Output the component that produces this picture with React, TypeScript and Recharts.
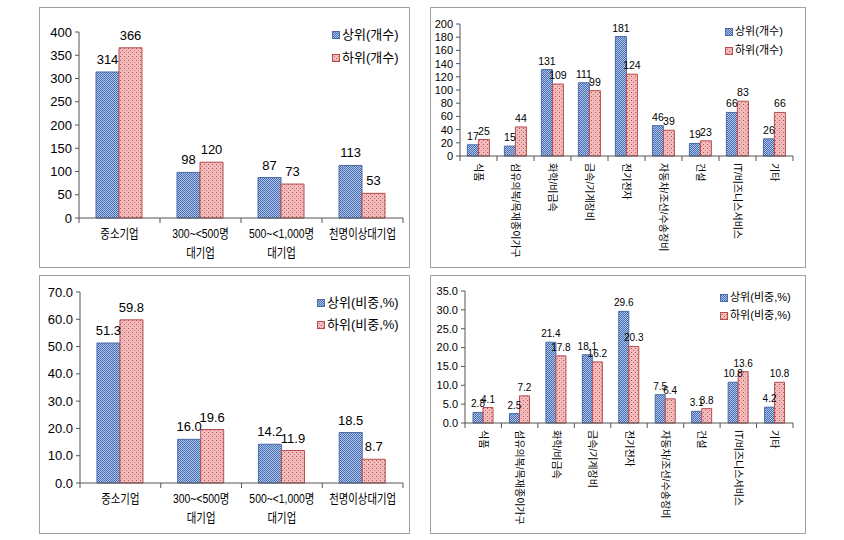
import React from 'react';
import { BarChart, Bar, XAxis, YAxis, Legend, LabelList } from 'recharts';

// 기업 규모별 (개수 / 비중)
const sizeCats = ['중소기업', '300~<500명\n대기업', '500~<1,000명\n대기업', '천명이상대기업'];
const sizeTopCnt = [314, 98, 87, 113];
const sizeLowCnt = [366, 120, 73, 53];
const sizeTopPct = [51.3, 16.0, 14.2, 18.5];
const sizeLowPct = [59.8, 19.6, 11.9, 8.7];

// 업종별 (개수 / 비중)
const indCats = ['식품', '섬유의복/목재종이가구', '화학/비금속', '금속/기계장비', '전기전자', '자동차/조선/수송장비', '건설', 'IT/비즈니스서비스', '기타'];
const indTopCnt = [17, 15, 131, 111, 181, 46, 19, 66, 26];
const indLowCnt = [25, 44, 109, 99, 124, 39, 23, 83, 66];
const indTopPct = [2.8, 2.5, 21.4, 18.1, 29.6, 7.5, 3.1, 10.8, 4.2];
const indLowPct = [4.1, 7.2, 17.8, 16.2, 20.3, 6.4, 3.8, 13.6, 10.8];

const cntTicksSize = [0, 50, 100, 150, 200, 250, 300, 350, 400];
const cntTicksInd = [0, 20, 40, 60, 80, 100, 120, 140, 160, 180, 200];
const pctTicksSize = [0, 10, 20, 30, 40, 50, 60, 70];
const pctTicksInd = [0, 5, 10, 15, 20, 25, 30, 35];

const FONT = "'Liberation Sans Narrow', 'Liberation Sans', Arial, 'Noto Sans CJK KR', sans-serif";
const AXIS = '#555';
const TICK_SIZE = 5;
const TICK_MARGIN = 3;

const build = (cats: string[], a: number[], b: number[]) =>
  cats.map((c, i) => ({ name: c, top: a[i], low: b[i] }));

const Patterns = ({ id }: { id: string }) => (
  <defs>
    <pattern id={`blue-${id}`} width="2" height="2" patternUnits="userSpaceOnUse">
      <rect width="2" height="2" fill="#b0c6ec" />
      <rect x="0" y="0" width="1" height="1" fill="#4166aa" />
      <rect x="1" y="1" width="1" height="1" fill="#4a70b4" />
    </pattern>
    <pattern id={`pink-${id}`} width="4" height="4" patternUnits="userSpaceOnUse">
      <rect width="4" height="4" fill="#f3bcbc" />
      <rect x="0" y="0" width="1" height="1" fill="#c0504d" />
      <rect x="2" y="2" width="1" height="1" fill="#d0706d" />
    </pattern>
  </defs>
);

const HorizTick = (props: any) => {
  const { x, y, payload, index, visibleTicksCount, fs } = props;
  const off = payload.offset ?? 0;
  const y0 = y - TICK_SIZE - TICK_MARGIN;
  const lines = String(payload.value).split('\n');
  return (
    <g>
      <line x1={x - off} x2={x - off} y1={y0} y2={y0 + TICK_SIZE} stroke={AXIS} />
      {index === visibleTicksCount - 1 && (
        <line x1={x + off} x2={x + off} y1={y0} y2={y0 + TICK_SIZE} stroke={AXIS} />
      )}
      <g transform={`translate(${x}, ${y + 12}) scale(0.8, 1)`}>
        <text x={0} y={0} textAnchor="middle" fontSize={fs} fontFamily={FONT} fill="#000">
          {lines.map((l, i) => (
            <tspan key={i} x={0} dy={i === 0 ? 0 : 19}>{l}</tspan>
          ))}
        </text>
      </g>
    </g>
  );
};

const VertTick = (props: any) => {
  const { x, y, payload, index, visibleTicksCount, fs } = props;
  const off = payload.offset ?? 0;
  const y0 = y - TICK_SIZE - TICK_MARGIN;
  return (
    <g>
      <line x1={x - off} x2={x - off} y1={y0} y2={y0 + TICK_SIZE} stroke={AXIS} />
      {index === visibleTicksCount - 1 && (
        <line x1={x + off} x2={x + off} y1={y0} y2={y0 + TICK_SIZE} stroke={AXIS} />
      )}
      <text
        x={x}
        y={y - 1}
        transform={`rotate(90, ${x}, ${y - 1})`}
        textAnchor="start"
        dominantBaseline="central"
        fontSize={fs}
        fontFamily={FONT}
        fill="#000"
      >
        {payload.value}
      </text>
    </g>
  );
};

const LegendBox = ({ id, names, fs, gap }: any) => (
  <div style={{ fontFamily: FONT, fontSize: fs, color: '#000', lineHeight: 1 }}>
    {names.map((n: string, i: number) => (
      <div key={n} style={{ display: 'flex', alignItems: 'center', marginTop: i === 0 ? 0 : gap }}>
        <svg width={8} height={8} style={{ marginRight: 2 }}>
          <rect x={0.5} y={0.5} width={7} height={7} fill={`url(#${i === 0 ? 'blue' : 'pink'}-${id})`} stroke={i === 0 ? '#4a6aa8' : '#b84b4b'} />
        </svg>
        <span>{n}</span>
      </div>
    ))}
  </div>
);

type PanelProps = {
  id: string;
  box: { left: number; top: number; width: number; height: number };
  data: any[];
  names: string[];
  ticks: number[];
  pct: boolean;
  vertical: boolean;
  margin: { top: number; right: number };
  yWidth: number;
  xHeight: number;
  gapPct: string;
  fs: number;
  catFs: number;
  labelFs: number;
  labelOffset: number;
  legendPos: { left: number; top: number };
  legendGap: number;
};

const Panel = (p: PanelProps) => {
  const fmt = (v: any) => (p.pct ? Number(v).toFixed(1) : String(v));
  const max = p.ticks[p.ticks.length - 1];
  const labelStyle = { fontSize: p.labelFs, fontFamily: FONT, fill: '#000' };
  return (
    <div
      style={{
        position: 'absolute',
        left: p.box.left,
        top: p.box.top,
        width: p.box.width,
        height: p.box.height,
        border: '1px solid #a0a0a0',
        boxSizing: 'border-box',
        background: '#fff',
      }}
    >
      <BarChart
        width={p.box.width - 2}
        height={p.box.height - 2}
        data={p.data}
        margin={{ top: p.margin.top, right: p.margin.right, left: 0, bottom: 0 }}
        barCategoryGap={p.gapPct}
        barGap={0}
      >
        <Patterns id={p.id} />
        <XAxis
          dataKey="name"
          interval={0}
          height={p.xHeight}
          stroke={AXIS}
          tickLine={false}
          tickSize={TICK_SIZE}
          tickMargin={TICK_MARGIN}
          tick={p.vertical ? <VertTick fs={p.catFs} /> : <HorizTick fs={p.catFs} />}
        />
        <YAxis
          width={p.yWidth}
          domain={[0, max]}
          ticks={p.ticks}
          interval={0}
          stroke={AXIS}
          tickSize={4}
          tickMargin={3}
          tickFormatter={fmt}
          tick={{ fontSize: p.fs, fontFamily: FONT, fill: '#000' }}
        />
        <Legend
          layout="horizontal"
          verticalAlign="middle"
          content={() => <LegendBox id={p.id} names={p.names} fs={p.fs} gap={p.legendGap} />}
          wrapperStyle={{ position: 'absolute', left: p.legendPos.left, top: p.legendPos.top, width: 'auto' }}
        />
        <Bar dataKey="top" name={p.names[0]} fill={`url(#blue-${p.id})`} stroke="#4a6aa8" strokeWidth={1} isAnimationActive={false}>
          <LabelList dataKey="top" position="top" offset={p.labelOffset} formatter={fmt} style={labelStyle} />
        </Bar>
        <Bar dataKey="low" name={p.names[1]} fill={`url(#pink-${p.id})`} stroke="#b84b4b" strokeWidth={1} isAnimationActive={false}>
          <LabelList dataKey="low" position="top" offset={p.labelOffset} formatter={fmt} style={labelStyle} />
        </Bar>
      </BarChart>
    </div>
  );
};

export default function App() {
  return (
    <div style={{ position: 'absolute', left: 0, top: 0, width: 844, height: 540, background: '#fff' }}>
      <Panel
        id="a"
        box={{ left: 39, top: 7, width: 371, height: 261 }}
        data={build(sizeCats, sizeTopCnt, sizeLowCnt)}
        names={['상위(개수)', '하위(개수)']}
        ticks={cntTicksSize}
        pct={false}
        vertical={false}
        margin={{ top: 24, right: 6 }}
        yWidth={39}
        xHeight={49}
        gapPct="21%"
        fs={13}
        catFs={13}
        labelFs={13}
        labelOffset={8}
        legendPos={{ left: 292, top: 20 }}
        legendGap={10}
      />
      <Panel
        id="b"
        box={{ left: 430, top: 7, width: 376, height: 261 }}
        data={build(indCats, indTopCnt, indLowCnt)}
        names={['상위(개수)', '하위(개수)']}
        ticks={cntTicksInd}
        pct={false}
        vertical={true}
        margin={{ top: 16, right: 12 }}
        yWidth={29}
        xHeight={111}
        gapPct="20%"
        fs={11}
        catFs={10}
        labelFs={10.5}
        labelOffset={5}
        legendPos={{ left: 294, top: 18 }}
        legendGap={8}
      />
      <Panel
        id="c"
        box={{ left: 39, top: 275, width: 371, height: 259 }}
        data={build(sizeCats, sizeTopPct, sizeLowPct)}
        names={['상위(비중,%)', '하위(비중,%)']}
        ticks={pctTicksSize}
        pct={true}
        vertical={false}
        margin={{ top: 16, right: 6 }}
        yWidth={40}
        xHeight={50}
        gapPct="21%"
        fs={13}
        catFs={13}
        labelFs={13}
        labelOffset={8}
        legendPos={{ left: 277, top: 20 }}
        legendGap={9}
      />
      <Panel
        id="d"
        box={{ left: 430, top: 275, width: 376, height: 259 }}
        data={build(indCats, indTopPct, indLowPct)}
        names={['상위(비중,%)', '하위(비중,%)']}
        ticks={pctTicksInd}
        pct={true}
        vertical={true}
        margin={{ top: 15, right: 12 }}
        yWidth={34}
        xHeight={110}
        gapPct="22%"
        fs={11}
        catFs={10}
        labelFs={10}
        labelOffset={5}
        legendPos={{ left: 289, top: 16 }}
        legendGap={7}
      />
    </div>
  );
}
